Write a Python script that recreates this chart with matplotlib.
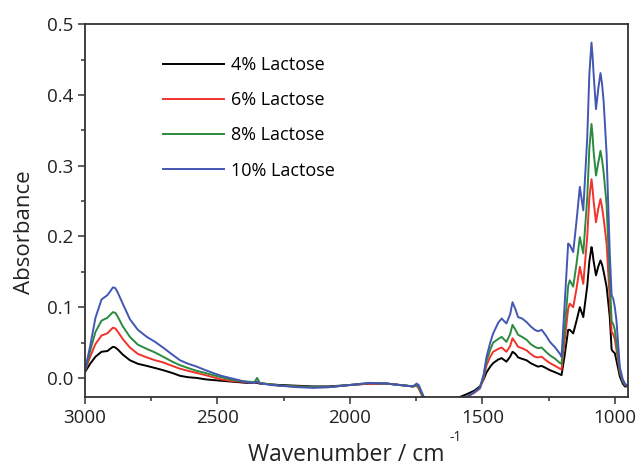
import numpy as np
import matplotlib
matplotlib.use('Agg')
import matplotlib.pyplot as plt
from matplotlib.ticker import MultipleLocator

plt.rcParams['font.family'] = ['Open Sans', 'DejaVu Sans']

# wavenumber grid (cm-1)
wn = [3000, 2980, 2960, 2937, 2915, 2905, 2894, 2885, 2875, 2857, 2830, 2800,
      2766, 2735, 2705, 2670, 2641, 2610, 2578, 2545, 2516, 2485,
      2453, 2420, 2390, 2360, 2350, 2340, 2328, 2300, 2264, 2200,
      2139, 2080, 2000, 1924, 1860, 1811, 1762, 1748, 1740, 1724,
      1700, 1600, 1585, 1559, 1530, 1509, 1495, 1484, 1470, 1459,
      1440, 1427, 1409, 1395, 1386, 1375, 1365, 1350, 1333, 1318,
      1302, 1290, 1276, 1260, 1245, 1225, 1207, 1201, 1190, 1176,
      1170, 1157, 1145, 1132, 1119,
      1104, 1096, 1088, 1084, 1080, 1071, 1062, 1054, 1048, 1042,
      1031, 1019, 1012, 1006, 1000, 994, 981, 970, 962, 951]

lact4 = [0.008, 0.020, 0.030, 0.037, 0.038, 0.041, 0.044, 0.043, 0.040, 0.033, 0.025, 0.020,
         0.017, 0.014, 0.011, 0.007, 0.003, 0.001, 0.000, -0.002, -0.003, -0.004,
         -0.005, -0.006, -0.007, -0.007, -0.007, -0.008, -0.008, -0.009, -0.010, -0.011,
         -0.012, -0.012, -0.010, -0.008, -0.008, -0.010, -0.012, -0.011, -0.013, -0.026,
         -0.045, -0.035, -0.027, -0.023, -0.018, -0.012, -0.002, 0.008, 0.016, 0.021,
         0.026, 0.028, 0.023, 0.030, 0.037, 0.034, 0.029, 0.027, 0.025, 0.021,
         0.018, 0.016, 0.017, 0.014, 0.011, 0.008, 0.005, 0.004, 0.030, 0.068,
         0.068, 0.063, 0.080, 0.100, 0.086,
         0.130, 0.165, 0.185, 0.177, 0.165, 0.145, 0.158, 0.166, 0.160, 0.150,
         0.129, 0.086, 0.040, 0.037, 0.035, 0.025, 0.002, -0.008, -0.012, -0.012]

lact6 = [0.009, 0.030, 0.048, 0.060, 0.063, 0.067, 0.071, 0.070, 0.065, 0.055, 0.043, 0.034,
         0.029, 0.025, 0.022, 0.017, 0.013, 0.010, 0.007, 0.004, 0.001, -0.002,
         -0.004, -0.005, -0.006, -0.007, -0.006, -0.007, -0.008, -0.009, -0.011, -0.012,
         -0.013, -0.013, -0.010, -0.008, -0.008, -0.010, -0.012, -0.011, -0.015, -0.028,
         -0.045, -0.045, -0.040, -0.027, -0.021, -0.015, 0.000, 0.018, 0.030, 0.037,
         0.041, 0.043, 0.037, 0.045, 0.056, 0.050, 0.044, 0.042, 0.039, 0.034,
         0.030, 0.029, 0.030, 0.025, 0.021, 0.017, 0.013, 0.012, 0.050, 0.098,
         0.105, 0.100, 0.125, 0.157, 0.133,
         0.200, 0.255, 0.281, 0.268, 0.250, 0.220, 0.240, 0.253, 0.241, 0.225,
         0.190, 0.110, 0.065, 0.062, 0.055, 0.040, 0.008, -0.005, -0.010, -0.011]

lact8 = [0.009, 0.038, 0.065, 0.081, 0.085, 0.089, 0.093, 0.092, 0.086, 0.073, 0.058, 0.047,
         0.041, 0.036, 0.030, 0.023, 0.018, 0.014, 0.010, 0.007, 0.004, 0.001,
         -0.002, -0.004, -0.005, -0.006, 0.000, -0.007, -0.008, -0.009, -0.011, -0.012,
         -0.013, -0.013, -0.010, -0.007, -0.008, -0.010, -0.012, -0.010, -0.013, -0.026,
         -0.045, -0.045, -0.040, -0.027, -0.020, -0.014, 0.003, 0.024, 0.040, 0.050,
         0.055, 0.058, 0.051, 0.062, 0.075, 0.068, 0.061, 0.058, 0.054, 0.048,
         0.044, 0.042, 0.043, 0.037, 0.032, 0.027, 0.021, 0.020, 0.065, 0.130,
         0.138, 0.129, 0.160, 0.199, 0.176,
         0.255, 0.325, 0.359, 0.343, 0.320, 0.286, 0.305, 0.321, 0.308, 0.290,
         0.245, 0.140, 0.080, 0.076, 0.068, 0.050, 0.010, -0.004, -0.009, -0.011]

lact10 = [0.010, 0.045, 0.085, 0.111, 0.117, 0.122, 0.128, 0.127, 0.120, 0.105, 0.083, 0.068,
          0.058, 0.051, 0.043, 0.033, 0.025, 0.020, 0.016, 0.011, 0.007, 0.003,
          0.000, -0.003, -0.006, -0.007, -0.005, -0.008, -0.008, -0.010, -0.011, -0.013,
          -0.014, -0.013, -0.010, -0.007, -0.008, -0.010, -0.012, -0.008, -0.010, -0.024,
          -0.045, -0.045, -0.040, -0.027, -0.020, -0.014, 0.005, 0.030, 0.050, 0.063,
          0.078, 0.084, 0.077, 0.090, 0.107, 0.097, 0.086, 0.084, 0.079, 0.073,
          0.068, 0.066, 0.068, 0.060, 0.051, 0.043, 0.034, 0.030, 0.100, 0.190,
          0.188, 0.178, 0.220, 0.270, 0.237,
          0.340, 0.430, 0.474, 0.455, 0.430, 0.380, 0.410, 0.431, 0.415, 0.390,
          0.317, 0.176, 0.117, 0.112, 0.100, 0.082, 0.015, -0.002, -0.008, -0.012]

labels = ['4% Lactose', '6% Lactose', '8% Lactose', '10% Lactose']
colors = ['#000000', '#f2322b', '#2b8a3e', '#4356b4']

fig = plt.figure(figsize=(6.38, 4.66), dpi=100)
ax = fig.add_axes([0.133, 0.148, 0.851, 0.800])

for y, lab, c in zip([lact4, lact6, lact8, lact10], labels, colors):
    ax.plot(wn, y, color=c, lw=1.4, label=lab)

ax.set_xlim(3000, 951)
ax.set_ylim(-0.027, 0.5)
ax.xaxis.set_major_locator(MultipleLocator(500))
ax.xaxis.set_minor_locator(MultipleLocator(250))
ax.yaxis.set_major_locator(MultipleLocator(0.1))
ax.yaxis.set_minor_locator(MultipleLocator(0.05))
ax.yaxis.set_major_formatter(plt.FormatStrFormatter('%.1f'))
ax.tick_params(which='both', direction='out', top=False, right=False,
               width=1.1, color='#333333', labelsize=13.5, labelcolor='#222222')
ax.tick_params(which='major', length=5)
ax.tick_params(which='minor', length=3)
for s in ax.spines.values():
    s.set_linewidth(1.3)
    s.set_color('#333333')

ax.set_ylabel('Absorbance', fontsize=16, color='#222222')
ax.yaxis.set_label_coords(-0.092, 0.442)

# x label with the raised "-1" placed like in the original
fig.text(248 / 638, 1 - 461 / 466, 'Wavenumber / cm', fontsize=16.5,
         color='#222222', ha='left', va='baseline')
fig.text(450 / 638, 1 - 441 / 466, '-1', fontsize=10, color='#222222',
         ha='left', va='baseline')

ax.legend(loc='upper left', bbox_to_anchor=(0.114, 0.958), frameon=False,
          fontsize=13, handlelength=3.4, handletextpad=0.35, labelspacing=0.95)

fig.savefig('out.png', dpi=100)
